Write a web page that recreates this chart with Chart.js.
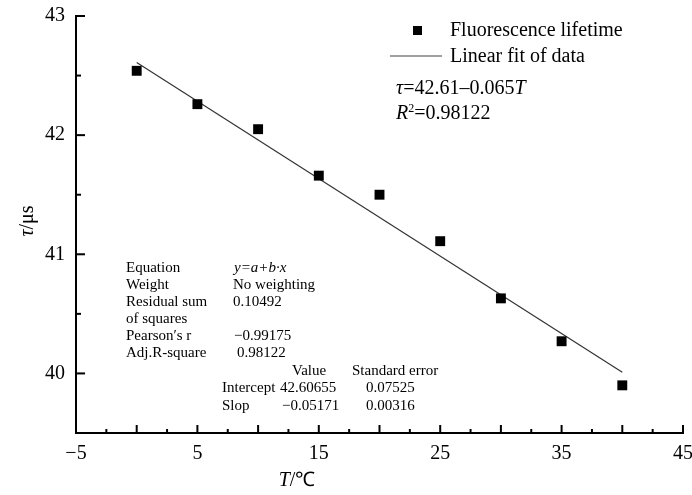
<!DOCTYPE html>
<html>
<head>
<meta charset="utf-8">
<script src="https://cdn.jsdelivr.net/npm/chart.js@4.4.1/dist/chart.umd.min.js"></script>
<style>
  html, body { margin: 0; padding: 0; background: #fff; }
  #wrap { width: 692px; height: 495px; position: relative; }
</style>
</head>
<body>
<div id="wrap"><canvas id="lifetimeChart"></canvas></div>
<script>
// measured points (temperature in °C, lifetime in µs)
const temps = [0, 5, 10, 15, 20, 25, 30, 35, 40];
const lifetimes = [42.54, 42.26, 42.05, 41.66, 41.5, 41.11, 40.63, 40.27, 39.9];

// fitted line end points: tau = 42.61 - 0.065 T
const fitT = [0, 40];
const fitTau = [42.61, 40.01];

// axis ticks
const xLabelTicks = [-5, 5, 15, 25, 35, 45];
const yLabelTicks = [40, 41, 42, 43];

const SERIF = "'Liberation Serif', 'Times New Roman', serif";

// draw text made of [text, italic, size, dy] pieces
function drawRuns(ctx, x, y, runs, size, align) {
  let total = 0;
  runs.forEach((r) => {
    ctx.font = (r[1] ? "italic " : "") + (r[2] || size) + "px " + SERIF;
    total += ctx.measureText(r[0]).width;
  });
  let cx = align === "center" ? x - total / 2 : x;
  runs.forEach((r) => {
    ctx.font = (r[1] ? "italic " : "") + (r[2] || size) + "px " + SERIF;
    ctx.fillText(r[0], cx, y + (r[3] || 0));
    cx += ctx.measureText(r[0]).width;
  });
}

const decorPlugin = {
  id: "decor",
  afterDraw(chart) {
    const ctx = chart.ctx;
    const xs = chart.scales.x;
    const ys = chart.scales.y;
    const area = chart.chartArea;
    ctx.save();
    ctx.strokeStyle = "#000";
    ctx.lineWidth = 2;

    // inward tick marks
    for (let v = -5; v <= 45; v += 2.5) {
      const px = xs.getPixelForValue(v);
      const len = v % 5 === 0 ? 8 : 4;
      ctx.beginPath();
      ctx.moveTo(px, area.bottom);
      ctx.lineTo(px, area.bottom - len);
      ctx.stroke();
    }
    for (let v = 40; v <= 43; v += 0.5) {
      const py = ys.getPixelForValue(v);
      const len = v % 1 === 0 ? 9 : 5;
      ctx.beginPath();
      ctx.moveTo(area.left, py);
      ctx.lineTo(area.left + len, py);
      ctx.stroke();
    }

    ctx.fillStyle = "#000";
    ctx.textBaseline = "middle";
    ctx.textAlign = "left";

    // legend
    ctx.fillRect(413, 26, 9, 9);
    ctx.strokeStyle = "#444";
    ctx.lineWidth = 1.2;
    ctx.beginPath();
    ctx.moveTo(390, 56);
    ctx.lineTo(442, 56);
    ctx.stroke();
    drawRuns(ctx, 450, 31, [["Fluorescence lifetime", false]], 20);
    drawRuns(ctx, 450, 57, [["Linear fit of data", false]], 20);

    // equation
    drawRuns(ctx, 396, 89, [["τ", true], ["=42.61–0.065", false], ["T", true]], 20);
    drawRuns(ctx, 396, 114, [["R", true], ["2", false, 12, -5], ["=0.98122", false]], 20);

    // fit statistics
    const rows = [
      [268, "Equation", 234, [["y=a+b·x", true]]],
      [285, "Weight", 233, [["No weighting", false]]],
      [302, "Residual sum", 233, [["0.10492", false]]],
      [319, "of squares", 233, []],
      [336, "Pearson′s r", 234, [["−0.99175", false]]],
      [353, "Adj.R-square", 237, [["0.98122", false]]],
    ];
    rows.forEach((r) => {
      drawRuns(ctx, 126, r[0], [[r[1], false]], 15);
      if (r[3].length) drawRuns(ctx, r[2], r[0], r[3], 15);
    });
    drawRuns(ctx, 292, 371, [["Value", false]], 15);
    drawRuns(ctx, 352, 371, [["Standard error", false]], 15);
    drawRuns(ctx, 222, 388, [["Intercept", false]], 15);
    drawRuns(ctx, 280, 388, [["42.60655", false]], 15);
    drawRuns(ctx, 366, 388, [["0.07525", false]], 15);
    drawRuns(ctx, 222, 406, [["Slop", false]], 15);
    drawRuns(ctx, 282, 406, [["−0.05171", false]], 15);
    drawRuns(ctx, 366, 406, [["0.00316", false]], 15);

    // axis titles
    drawRuns(ctx, 297, 481, [["T", true], ["/℃", false]], 20, "center");
    ctx.translate(28, 221);
    ctx.rotate(-Math.PI / 2);
    drawRuns(ctx, 0, 0, [["τ", true], ["/μs", false]], 20, "center");
    ctx.restore();
  },
};

const ctx = document.getElementById("lifetimeChart").getContext("2d");
const lifetimeChart = new Chart(ctx, {
  type: "scatter",
  data: {
    datasets: [
      {
        label: "Fluorescence lifetime",
        data: temps.map((t, i) => ({ x: t, y: lifetimes[i] })),
        pointStyle: "rect",
        pointRadius: 7,
        pointBackgroundColor: "#000",
        pointBorderWidth: 0,
        showLine: false,
      },
      {
        type: "line",
        label: "Linear fit of data",
        data: fitT.map((t, i) => ({ x: t, y: fitTau[i] })),
        borderColor: "#333",
        borderWidth: 1.2,
        pointRadius: 0,
        fill: false,
      },
    ],
  },
  options: {
    responsive: true,
    maintainAspectRatio: false,
    animation: false,
    layout: {
      padding: { top: 16, right: 9, left: 0, bottom: 0 },
    },
    plugins: {
      legend: { display: false },
      tooltip: { enabled: false },
    },
    scales: {
      x: {
        type: "linear",
        min: -5,
        max: 45,
        afterBuildTicks: (s) => {
          s.ticks = xLabelTicks.map((v) => ({ value: v }));
        },
        afterFit: (s) => {
          s.height = 62;
          s.paddingLeft = 0;
          s.paddingRight = 0;
        },
        grid: { display: false, drawTicks: false },
        border: { display: true, color: "#000", width: 2 },
        ticks: {
          padding: 9,
          color: "#000",
          font: { family: SERIF, size: 20 },
          maxRotation: 0,
          callback: (v) => String(v).replace("-", "−"),
        },
      },
      y: {
        type: "linear",
        min: 39.5,
        max: 43,
        afterBuildTicks: (s) => {
          s.ticks = yLabelTicks.map((v) => ({ value: v }));
        },
        afterFit: (s) => {
          s.width = 76;
          s.paddingTop = 0;
          s.paddingBottom = 0;
        },
        grid: { display: false, drawTicks: false },
        border: { display: true, color: "#000", width: 2 },
        ticks: {
          padding: 11,
          color: "#000",
          font: { family: SERIF, size: 20 },
        },
      },
    },
  },
  plugins: [decorPlugin],
});
</script>
</body>
</html>
